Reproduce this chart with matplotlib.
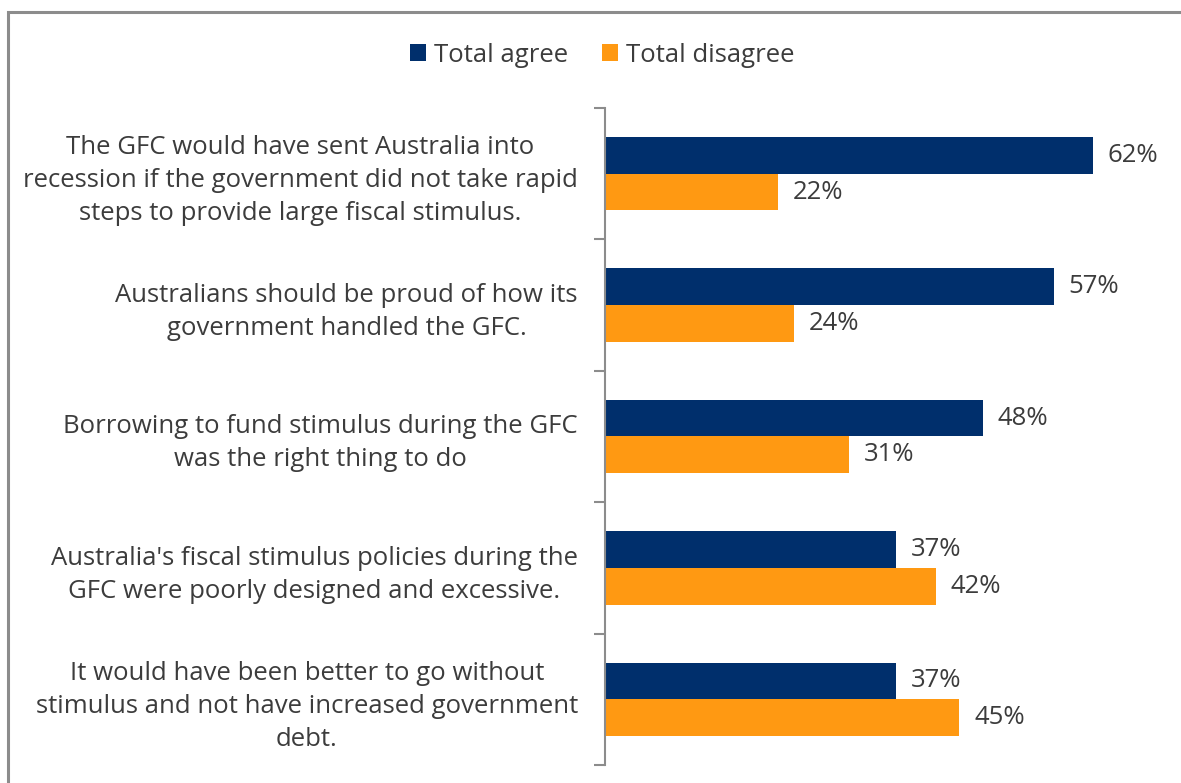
import numpy as np
import matplotlib.pyplot as plt
from matplotlib.patches import Rectangle

# data
statements = [
    "The GFC would have sent Australia into\nrecession if the government did not take rapid\nsteps to provide large fiscal stimulus.",
    "Australians should be proud of how its\ngovernment handled the GFC.",
    "Borrowing to fund stimulus during the GFC\nwas the right thing to do",
    "Australia's fiscal stimulus policies during the\nGFC were poorly designed and excessive.",
    "It would have been better to go without\nstimulus and not have increased government\ndebt.",
]
agree = [62, 57, 48, 37, 37]
disagree = [22, 24, 31, 42, 45]
series_names = ["Total agree", "Total disagree"]

navy = "#002f6c"
orange = "#ff9912"
txt = "#3c3c3c"

plt.rcParams['font.family'] = ['Open Sans', 'DejaVu Sans']

W, H = 1181, 783
fig = plt.figure(figsize=(W / 100, H / 100), dpi=100)

# frame around chart (only top/left visible in reference)
fig.patches.append(Rectangle((8 / W, -0.1), 1.2, 1 - 12 / H + 0.1, transform=fig.transFigure,
                             fill=False, edgecolor="#8c8c8c", linewidth=2.2))

ax = fig.add_axes([605 / W, 1 - 765 / H, 551 / W, 657 / H])

n = len(statements)
y = np.arange(n)
h = 0.28
ax.barh(y - h / 2, agree, height=h, color=navy, label=series_names[0])
ax.barh(y + h / 2, disagree, height=h, color=orange, label=series_names[1])

for i in range(n):
    ax.text(agree[i] + 1.9, y[i] - h / 2, f"{agree[i]}%", va="center", ha="left",
            fontsize=18.5, color=txt)
    ax.text(disagree[i] + 1.9, y[i] + h / 2, f"{disagree[i]}%", va="center", ha="left",
            fontsize=18.5, color=txt)

ax.set_ylim(n - 0.5, -0.5)
ax.set_xlim(0, 70)
ax.set_yticks(y)
ax.set_yticklabels(statements, fontsize=18.5, color=txt, linespacing=1.42,
                   multialignment="center")
ax.tick_params(axis="y", which="major", length=0, pad=19.5)
ax.set_yticks(np.arange(-0.5, n, 1), minor=True)
ax.tick_params(axis="y", which="minor", length=8, width=1.5, color="#8c8c8c")
ax.set_xticks([])
for s in ["top", "right", "bottom"]:
    ax.spines[s].set_visible(False)
ax.spines["left"].set_color("#8c8c8c")
ax.spines["left"].set_linewidth(1.5)

fig.legend(loc="center", bbox_to_anchor=(602 / W, 1 - 55 / H), ncol=2, frameon=False,
           fontsize=18.5, handlelength=0.65, handleheight=0.65, handletextpad=0.3,
           columnspacing=1.3, labelcolor=txt)

fig.savefig("out.png", dpi=100)
